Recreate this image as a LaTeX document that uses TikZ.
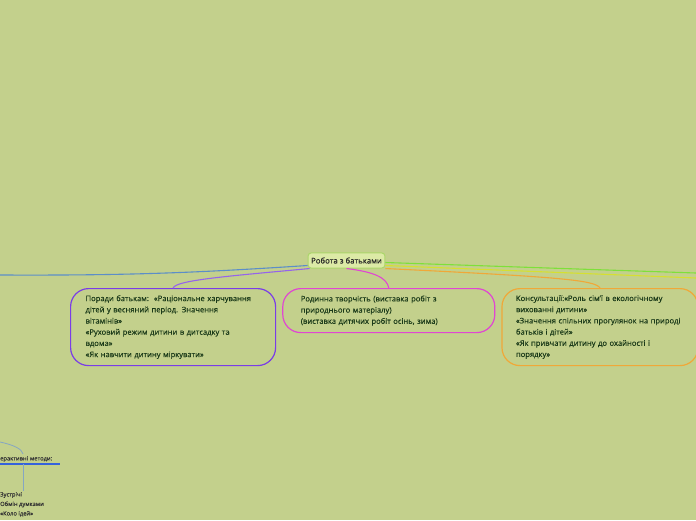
\documentclass[tikz,border=0pt]{standalone}
\usepackage{fontspec}
\setmainfont{Open Sans}[FakeBold=0.35]
\usetikzlibrary{positioning}
\definecolor{mapbg}{HTML}{C3D08C}
\definecolor{maptext}{HTML}{1B3A19}
\definecolor{hubfill}{HTML}{DCEAA6}
\definecolor{hubdraw}{HTML}{ABD66A}
\definecolor{violetline}{HTML}{7A3DE6}
\definecolor{magentaline}{HTML}{E046D2}
\definecolor{orangeline}{HTML}{F0A838}
\definecolor{blueline}{HTML}{5C8EC8}
\definecolor{greenline}{HTML}{7EE03A}
\definecolor{yellowline}{HTML}{D6E030}
\definecolor{methodline}{HTML}{3562DC}
\definecolor{subline}{HTML}{86A6C2}
\tikzset{
  hub/.style={
    rectangle,
    rounded corners=3pt,
    fill=hubfill,
    draw=hubdraw, line width=1pt,
    font=\fontsize{7.8}{10}\selectfont,
    text=black!85,
    inner xsep=3pt, inner ysep=4.5pt},
  topic/.style={
    rectangle,
    rounded corners=18pt,
    line width=1.2pt,
    align=left,
    font=\fontsize{7.6}{11.2}\selectfont,
    text=maptext,
    inner xsep=15pt, inner ysep=5pt,
    anchor=north west},
  small/.style={
    align=left,
    font=\fontsize{5.8}{9.5}\selectfont,
    text=black!80,
    inner sep=1pt},
  branch/.style={draw, line width=1.1pt},
}
\begin{document}
\begin{tikzpicture}[x=1pt, y=-1pt]
    \fill[mapbg] (0,0) rectangle (696,520);
    \useasboundingbox (0,0) rectangle (696,520);

    \node[hub] (hub) at (346.5,260.5) {Робота з батьками};

    \node[topic, draw=violetline, text width=175pt, minimum height=77pt] (porady) at (70,288)
        {Поради батькам:\ \ «Раціональне харчування\\
         дітей у весняний період. Значення\\
         вітамінів»\\
         «Руховий режим дитини в дитсадку та\\
         вдома»\\
         «Як навчити дитину міркувати»};
    \node[topic, draw=magentaline, text width=176pt, minimum height=44pt, inner xsep=18pt,
          right=6pt of porady.north east, anchor=north west] (rodynna)
        {Родинна творчість (виставка робіт з\\
         природнього матеріалу)\\
         (виставка дитячих робіт осінь, зима)};
    \node[topic, draw=orangeline, text width=168pt, minimum height=77pt,
          right=6pt of rodynna.north east, anchor=north west, inner xsep=14pt] (konsult)
        {Консультації:«Роль сім'ї в екологічному\\
         вихованні дитини»\\
         «Значення спільних прогулянок на природі\\
         батьків і дітей»\\
         «Як привчати дитину до охайності і\\
         порядку»};

    \coordinate (leftend) at (0,275);
    \coordinate (greenend) at (696,273);
    \coordinate (yellowend) at (696,278);

    \draw[branch, blueline] ([yshift=-5pt]hub.west) to[bend left=2] (leftend);
    \draw[branch, violetline!80] ([xshift=2pt]hub.south west) .. controls (230,276) and (176,280) .. (porady.north);
    \draw[branch, magentaline] (hub.south) .. controls (375,272) and (387,278) .. (rodynna.north);
    \draw[branch, orangeline] (hub.south east) .. controls (560,277) and (595,280) .. (konsult.north);
    \draw[branch, greenline] ([yshift=-2pt]hub.east) -- (greenend);
    \draw[branch, yellowline] ([yshift=-5pt]hub.east) -- (yellowend);

    % bottom left branch
    \node[small, anchor=south west, text width=60pt, inner ysep=2pt, inner xsep=0pt] (methods) at (0,464) {ерактивні методи:};
    \node[small, anchor=north west, inner xsep=0pt] (meetings) at (0,491)
        {Зустрічі\\
         Обмін думками\\
         «Коло ідей»};
    \coordinate (arcstart) at (0,442);
    \draw[subline, line width=0.8pt] (arcstart) .. controls (14,445) and (22,449) .. ([xshift=23pt]methods.north west);
    \draw[methodline, line width=2pt] (methods.south west) -- (methods.south east);
    \draw[subline, line width=0.8pt] ([xshift=23pt]methods.south west) -- ([xshift=23pt]meetings.north west);
\end{tikzpicture}
\end{document}
